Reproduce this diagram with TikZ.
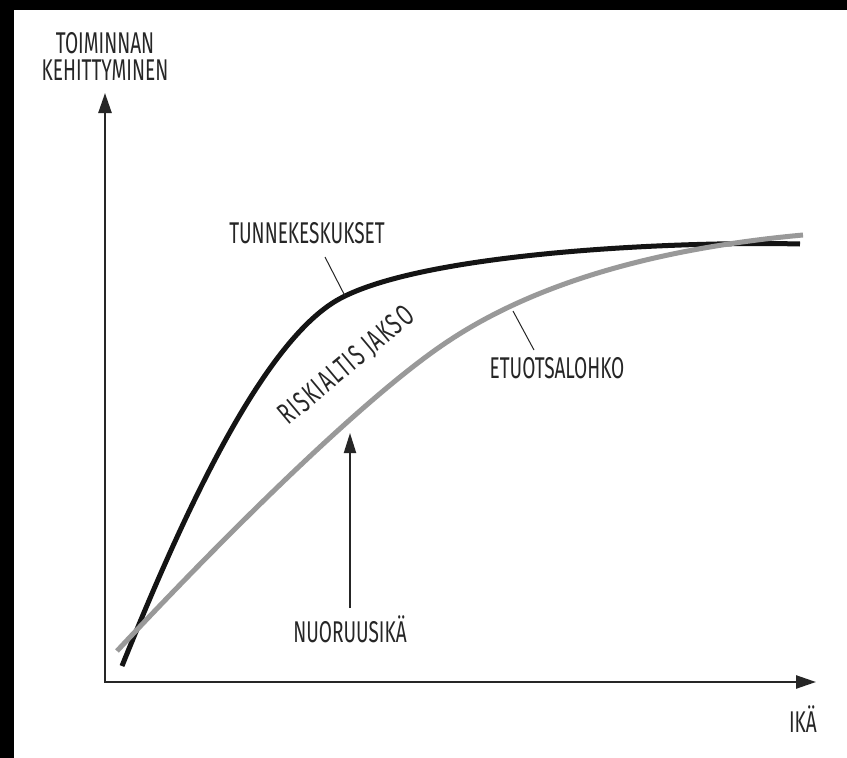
\documentclass[tikz,border=0pt]{standalone}
\usepackage{fontspec}
\setmainfont[FakeStretch=0.635]{Fira Sans}
\newfontfamily\harvafont[FakeStretch=0.635, LetterSpace=5]{Fira Sans}
\usetikzlibrary{arrows.meta}

\tikzset{
  nuoli/.style={line width=2.5pt, draw=black!85},
  kayra/.style={line width=5pt, line cap=butt},
  teksti/.style={font=\fontsize{30}{32}\selectfont, text=black!85, inner sep=0pt},
  viiva/.style={line width=1pt, draw=black!85},
}

\begin{document}
\begin{tikzpicture}[x=1pt, y=-1pt]
  \useasboundingbox (0,0) rectangle (847,758);
  \fill[white] (0,0) rectangle (847,758);
  % reunat
  \fill[black] (0,0) rectangle (847,10);
  \fill[black] (0,0) rectangle (14,758);

  % akselit
  \coordinate (o) at (105,682);
  \coordinate (ytop) at (105,93);
  \coordinate (xend) at (816,682);
  \draw[nuoli, {Triangle[length=20pt,width=13pt]}-{Triangle[length=20pt,width=13pt]}] (ytop) -- (o) -- (xend);

  \node[teksti, anchor=base] (toim) at (105,53) {TOIMINNAN};
  \node[teksti, anchor=base] (kehi) at (105,80) {KEHITTYMINEN};
  \node[teksti, anchor=base] (ika) at (803,732) {IKÄ};

  % kayrat
  \coordinate (mA) at (122,666);
  \coordinate (mB) at (343,297);
  \coordinate (mC) at (800,244);
  \draw[kayra, draw=black!92] (mA) .. controls (178,527) and (262,337) .. (mB)
    .. controls (432,252) and (680,241) .. (mC);
  \coordinate (hA) at (117,651);
  \coordinate (hB) at (450,340);
  \coordinate (hC) at (803,235);
  \draw[kayra, draw=black!40] (hA) .. controls (199,563) and (358,400) .. (hB)
    .. controls (550,274) and (683,246) .. (hC);

  % tunnekeskukset
  \node[teksti, anchor=base] (tunne) at (307,243) {TUNNEKESKUKSET};
  \coordinate (tunnea) at (325,257);
  \coordinate (tunneb) at (345,296);
  \draw[viiva] (tunnea) -- (tunneb);

  % etuotsalohko
  \node[teksti, anchor=base] (etu) at (557,378) {ETUOTSALOHKO};
  \coordinate (etua) at (534,350);
  \coordinate (etub) at (513,311);
  \draw[viiva] (etua) -- (etub);

  \node[teksti, font=\fontsize{30}{32}\harvafont, rotate=40] (riski) at (347,366) {RISKIALTIS JAKSO};

  % nuoruusika
  \node[teksti, anchor=base] (nuor) at (350,642) {NUORUUSIKÄ};
  \coordinate (nuorkarki) at (350,433);
  \draw[line width=2pt, draw=black!85, -{Triangle[length=20pt,width=12pt]}] (350,608) -- (nuorkarki);
\end{tikzpicture}
\end{document}
